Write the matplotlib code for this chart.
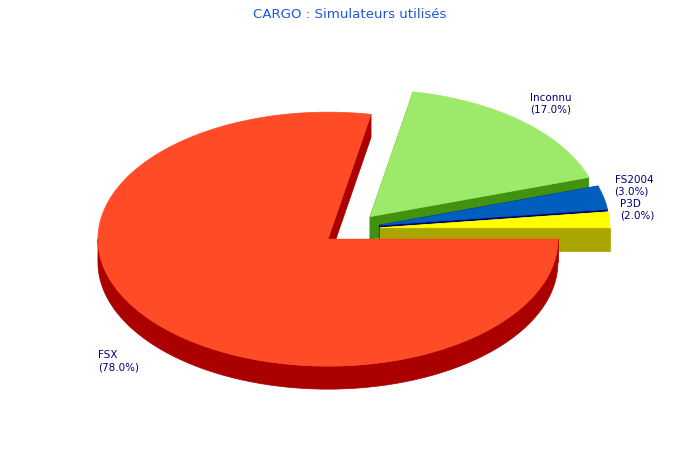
import numpy as np
import matplotlib
matplotlib.use("Agg")
import matplotlib.pyplot as plt
from matplotlib.patches import Polygon

title = "CARGO : Simulateurs utilisés"
simulators = ["FSX", "Inconnu", "FS2004", "P3D"]
shares = [78.0, 17.0, 3.0, 2.0]
top_colors = ["#FF4B26", "#9DEA6A", "#005EBE", "#FFFF00"]
side_colors = ["#AA0000", "#43920E", "#00006E", "#AAA500"]

W, H = 700, 460
cx, cy = 350.6, 229.8      # pie centre (pixels)
rx, ry = 230.0, 127.0      # ellipse radii
depth = 23.0               # 3D thickness
splice = 29.4              # slice separation

fig = plt.figure(figsize=(7, 4.6), dpi=100)
ax = fig.add_axes([0, 0, 1, 1])
ax.set_xlim(0, W)
ax.set_ylim(H, 0)
ax.axis("off")


def rim(ox, oy, a, dy=0.0):
    t = np.radians(a)
    return ox + rx * np.cos(t), oy - ry * np.sin(t) + dy


total = sum(shares)
slices = []
cum = 0.0
for name, v, ct, cs in zip(simulators, shares, top_colors, side_colors):
    a_start = -cum
    cum += 360.0 * v / total
    a_end = -cum
    mid = np.radians((a_start + a_end) / 2)
    ox = cx + splice * np.cos(mid)
    oy = cy - splice * (ry / rx) * np.sin(mid)
    slices.append(dict(name=name, v=v, a0=a_end, a1=a_start, mid=mid,
                       ox=ox, oy=oy, ct=ct, cs=cs))

# side faces, back to front
for s in sorted(slices, key=lambda s: s["oy"]):
    ox, oy, cs = s["ox"], s["oy"], s["cs"]
    for a in (s["a0"], s["a1"]):
        x, y = rim(ox, oy, a)
        quad = [(ox, oy), (x, y), (x, y + depth), (ox, oy + depth)]
        ax.add_patch(Polygon(quad, closed=True, fc=cs, ec=cs, lw=0.5))
    lo, hi = max(s["a0"], -180.0), min(s["a1"], 0.0)
    if hi > lo:
        aa = np.linspace(lo, hi, 200)
        top = [rim(ox, oy, a) for a in aa]
        bot = [rim(ox, oy, a, depth) for a in aa[::-1]]
        ax.add_patch(Polygon(top + bot, closed=True, fc=cs, ec=cs, lw=0.5))

# top faces
for s in slices:
    ox, oy = s["ox"], s["oy"]
    aa = np.linspace(s["a0"], s["a1"], 300)
    pts = [(ox, oy)] + [rim(ox, oy, a) for a in aa]
    ax.add_patch(Polygon(pts, closed=True, fc=s["ct"], ec=s["ct"], lw=0.5))

# labels
for s in slices:
    c, sn = np.cos(s["mid"]), np.sin(s["mid"])
    X = s["ox"] + (rx + 10) * c
    Y = s["oy"] - (ry + 10) * sn
    if sn < 0:
        Y += depth
        va = "top"
    else:
        va = "bottom"
    if c < 0:
        ha = "right"
        X -= 4
    else:
        ha = "left"
        X += 1
    ax.text(X, Y, f"{s['name']}\n({s['v']:.1f}%)", ha=ha, va=va,
            multialignment="left", fontsize=7.5, color="#000080",
            family="DejaVu Sans")

ax.text(W / 2, 14, title, ha="center", va="center", fontsize=9.6,
        color="#2256D8", family="DejaVu Sans")

fig.savefig("out.png", dpi=100, facecolor="white")
